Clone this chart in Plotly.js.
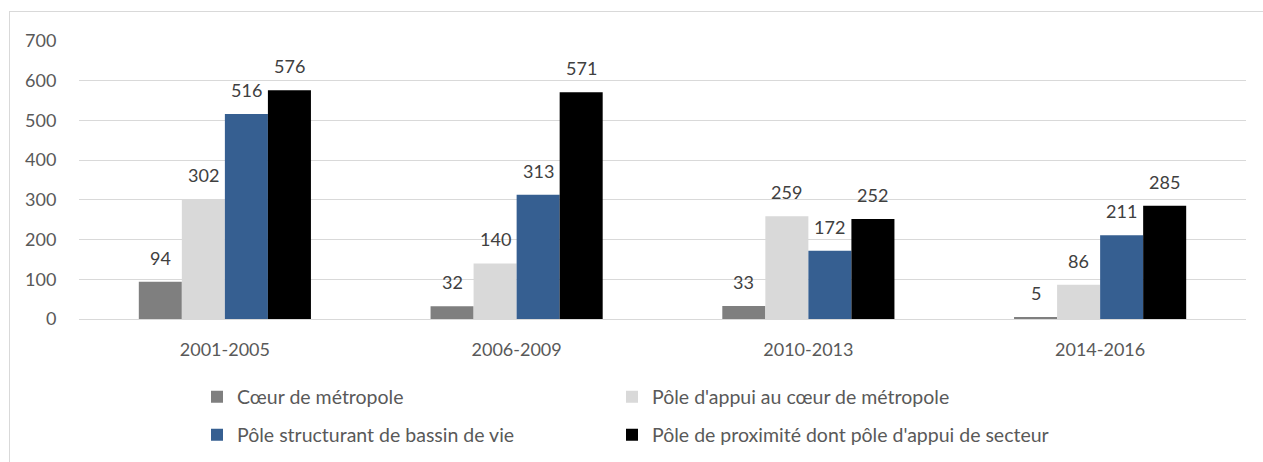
<!DOCTYPE html>
<html>
<head>
<meta charset="utf-8">
<script src="https://cdn.plot.ly/plotly-3.0.1.min.js"></script>
<style>
  html, body { margin: 0; padding: 0; background: #ffffff; }
  #frame { position: absolute; left: 9px; top: 11px; width: 1300px; height: 500px; border: 1px solid #d9d9d9; box-sizing: border-box; }
  #chart { position: absolute; left: 0; top: 0; width: 1263px; height: 462px; }
</style>
</head>
<body>
<div id="frame"></div>
<div id="chart"></div>
<script>
const categories = ["2001-2005", "2006-2009", "2010-2013", "2014-2016"];
const seriesNames = [
  "Cœur de métropole",
  "Pôle d'appui au cœur de métropole",
  "Pôle structurant de bassin de vie",
  "Pôle de proximité dont pôle d'appui de secteur"
];
const coeur = [94, 32, 33, 5];
const appui = [302, 140, 259, 86];
const structurant = [516, 313, 172, 211];
const proximite = [576, 571, 252, 285];
const yTicks = [0, 100, 200, 300, 400, 500, 600, 700];

const seriesValues = [coeur, appui, structurant, proximite];
const colors = ["#7f7f7f", "#d9d9d9", "#365f91", "#000000"];
const legendIds = ["legend", "legend2", "legend3", "legend4"];
const FONT = "Lato, 'Open Sans', sans-serif";
const bargap = 0.41;

const traces = seriesValues.map((vals, i) => ({
  type: "bar",
  name: seriesNames[i],
  x: categories,
  y: vals,
  marker: { color: colors[i], line: { width: 0 } },
  legend: legendIds[i],
  hoverinfo: "x+y+name"
}));

const nS = seriesValues.length;
const bw = (1 - bargap) / nS;
const annotations = [];
seriesValues.forEach((vals, i) => {
  vals.forEach((v, j) => {
    annotations.push({
      x: j + (i - (nS - 1) / 2) * bw,
      y: v,
      xref: "x", yref: "y",
      text: String(v),
      showarrow: false,
      yanchor: "bottom",
      yshift: 11,
      font: { family: FONT, size: 18, color: "#404040" }
    });
  });
});

const legendCommon = {
  orientation: "h",
  xref: "container", yref: "container",
  xanchor: "left", yanchor: "middle",
  font: { family: FONT, size: 19.5, color: "#595959" },
  bgcolor: "rgba(0,0,0,0)",
  itemclick: false, itemdoubleclick: false
};
const col1 = 197 / 1263, col2 = 612 / 1263;
const row1 = 1 - 397 / 462, row2 = 1 - 435 / 462;

const layout = {
  width: 1263, height: 462,
  margin: { l: 79, r: 17, t: 41, b: 143 },
  paper_bgcolor: "rgba(0,0,0,0)",
  plot_bgcolor: "rgba(0,0,0,0)",
  barmode: "group",
  bargap: bargap,
  bargroupgap: 0,
  font: { family: FONT, color: "#595959" },
  xaxis: {
    type: "category",
    tickfont: { family: FONT, size: 18, color: "#595959" },
    ticks: "outside", ticklen: 14, tickcolor: "rgba(0,0,0,0)",
    showline: false, showgrid: false, zeroline: false
  },
  yaxis: {
    range: [0, 700],
    tickvals: yTicks,
    ticktext: yTicks.map(String),
    tickfont: { family: FONT, size: 18, color: "#595959" },
    ticks: "outside", ticklen: 18, tickcolor: "rgba(0,0,0,0)",
    showgrid: true, gridcolor: "#d9d9d9", gridwidth: 1,
    zeroline: true, zerolinecolor: "#d9d9d9", zerolinewidth: 1,
    showline: false
  },
  showlegend: true,
  legend: Object.assign({}, legendCommon, { x: col1, y: row1 }),
  legend2: Object.assign({}, legendCommon, { x: col2, y: row1 }),
  legend3: Object.assign({}, legendCommon, { x: col1, y: row2 }),
  legend4: Object.assign({}, legendCommon, { x: col2, y: row2 }),
  annotations: annotations
};

Plotly.newPlot("chart", traces, layout, { displayModeBar: false, staticPlot: true });
</script>
</body>
</html>
